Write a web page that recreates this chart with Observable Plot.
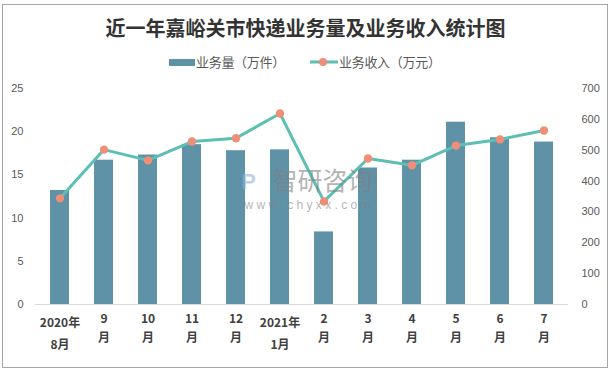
<!DOCTYPE html>
<html><head><meta charset="utf-8">
<script src="https://cdn.jsdelivr.net/npm/d3@7"></script>
<script src="https://cdn.jsdelivr.net/npm/@observablehq/plot@0.6"></script>
<style>
body{margin:0;background:#fff;font-family:"Liberation Sans","Noto Sans CJK SC",sans-serif;}
#wrap{position:relative;width:611px;height:372px;overflow:hidden;}
#frame{position:absolute;left:2px;top:4px;width:606px;height:364px;border:1px solid #a6a6a6;box-sizing:border-box;}
#title{position:absolute;left:0;top:16px;width:611px;text-align:center;font:bold 20px "Noto Sans CJK SC",sans-serif;color:#333;line-height:24px;}
.lg{position:absolute;top:54px;font:13px "Noto Sans CJK SC",sans-serif;color:#595959;line-height:16px;letter-spacing:-0.3px;}
#chart{position:absolute;left:0;top:80px;}
</style></head><body>
<div id="wrap">
<div id="frame"></div>
<div id="title">近一年嘉峪关市快递业务量及业务收入统计图</div>
<div id="legend"></div>
<div id="chart"></div>
</div>
<script>
const months = ["2020年8月","9月","10月","11月","12月","2021年1月","2月","3月","4月","5月","6月","7月"];
const labelTop = ["2020年","9","10","11","12","2021年","2","3","4","5","6","7"];
const labelBottom = ["8月","月","月","月","月","1月","月","月","月","月","月","月"];
const volume = [13.2, 16.7, 17.3, 18.5, 17.8, 17.9, 8.4, 15.8, 16.7, 21.1, 19.3, 18.8];
const revenue = [344, 502, 467, 528, 539, 619, 334, 473, 451, 515, 535, 564];
const leftTicks = [0, 5, 10, 15, 20, 25];
const rightTicks = [0, 100, 200, 300, 400, 500, 600, 700];
const seriesNames = ["业务量（万件）", "业务收入（万元）"];

const barColor = "#5f91a7", lineColor = "#5dbfb4", dotColor = "#ef8f77";
const k = 25 / 700;
const data = months.map((m, i) => ({month: m, volume: volume[i], revenue: revenue[i], top: labelTop[i], bottom: labelBottom[i], long: labelTop[i].length > 2}));

// legend
const lg = document.getElementById("legend");
lg.innerHTML = `
<div style="position:absolute;left:169px;top:59px;width:26px;height:7px;background:${barColor}"></div>
<div class="lg" style="left:196px">${seriesNames[0]}</div>
<svg style="position:absolute;left:308px;top:56px" width="32" height="12"><line x1="2" x2="30" y1="6" y2="6" stroke="${lineColor}" stroke-width="3"/><circle cx="15" cy="6" r="4" fill="${dotColor}"/></svg>
<div class="lg" style="left:339px">${seriesNames[1]}</div>`;

const labelFont = {fontWeight: "bold", fontSize: 12, fill: "#404040", fontFamily: "'Noto Sans CJK SC'"};
const wm = {frameAnchor: "top-left", fill: "#808080", fillOpacity: 0.6, textAnchor: "middle"};
const plot = Plot.plot({
  width: 611,
  height: 292,
  marginLeft: 35,
  marginRight: 43,
  marginTop: 8,
  marginBottom: 68,
  style: {fontFamily: "'Liberation Sans', sans-serif", fontSize: "11px", color: "#595959", background: "transparent"},
  x: {domain: months, paddingInner: 0.56, paddingOuter: 0.28, axis: null},
  y: {domain: [0, 25], axis: null},
  marks: [
    Plot.axisY({ticks: leftTicks, tickSize: 0, tickPadding: 12, anchor: "left", label: null, fill: "#595959", fontSize: 11}),
    Plot.axisY({ticks: rightTicks.map(v => v * k), tickFormat: d => String(Math.round(d / k)), tickSize: 0, tickPadding: 13, anchor: "right", label: null, textAnchor: "start", fill: "#595959", fontSize: 11}),
    Plot.barY(data, {x: "month", y: "volume", fill: barColor}),
    Plot.ruleY([0], {stroke: "#d9d9d9", strokeWidth: 1.2}),
    Plot.line(data, {x: "month", y: d => d.revenue * k, stroke: lineColor, strokeWidth: 3}),
    Plot.dot(data, {x: "month", y: d => d.revenue * k, r: 4.2, fill: dotColor}),
    Plot.text(data.filter(d => !d.long), {x: "month", text: "top", frameAnchor: "bottom", dy: 18, ...labelFont}),
    Plot.text(data.filter(d => !d.long), {x: "month", text: "bottom", frameAnchor: "bottom", dy: 37, ...labelFont}),
    Plot.text(data.filter(d => d.long), {x: "month", text: "top", frameAnchor: "bottom", dy: 22, ...labelFont}),
    Plot.text(data.filter(d => d.long), {x: "month", text: "bottom", frameAnchor: "bottom", dy: 44, ...labelFont}),
    // watermark
    Plot.text(["智研咨询"], {...wm, dx: 287, dy: 84, text: d => d, fontSize: 25, fontFamily: "'Noto Sans CJK SC'"}),
    Plot.text(["P"], {...wm, dx: 213, dy: 85, text: d => d, fontSize: 22, fontWeight: "bold", fill: "#8fb4d8"}),
    Plot.text(["w w w . c h y x x . c o m"], {...wm, dx: 272, dy: 112, text: d => d, fontSize: 12})
  ]
});
document.getElementById("chart").appendChild(plot);
</script>
</body></html>
